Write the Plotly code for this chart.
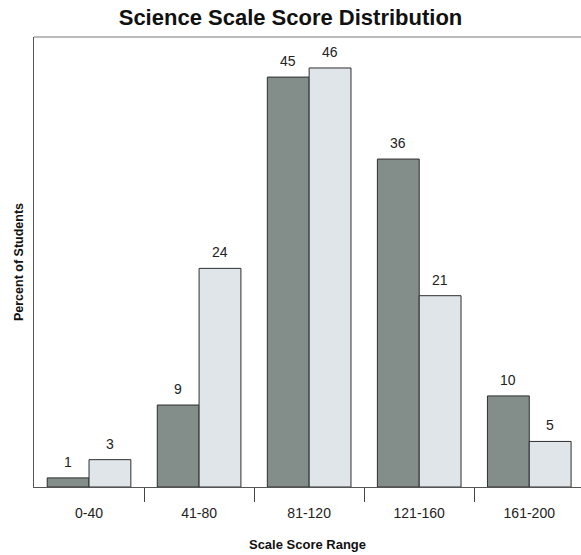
import plotly.graph_objects as go

# Score ranges and percentage of students in each range
categories = ["0-40", "41-80", "81-120", "121-160", "161-200"]
series_a = [1, 9, 45, 36, 10]
series_b = [3, 24, 46, 21, 5]

x_pos = list(range(len(categories)))
FONT = "Liberation Sans, Arial, sans-serif"

BARGAP = 0.24
half = (1 - BARGAP) / 4  # offset of each bar's centre from its group centre

fig = go.Figure()
fig.add_trace(go.Bar(
    x=x_pos, y=series_a, name="Series A",
    marker=dict(color="#838d8a", line=dict(color="#2e2e2e", width=1)),
))
fig.add_trace(go.Bar(
    x=x_pos, y=series_b, name="Series B",
    marker=dict(color="#e0e5ea", line=dict(color="#2e2e2e", width=1)),
))

# value labels above each bar
for offset, values in ((-half, series_a), (half, series_b)):
    for xi, v in zip(x_pos, values):
        fig.add_annotation(
            x=xi + offset, y=v, xref="x", yref="y",
            text=str(v), showarrow=False,
            yanchor="bottom", yshift=6,
            font=dict(family=FONT, size=14, color="#222222"),
        )

# top frame line of the plot area
fig.add_shape(type="line", xref="paper", yref="paper", x0=0, x1=1, y0=1, y1=1,
              line=dict(color="#777777", width=1))

fig.update_layout(
    width=581, height=555,
    margin=dict(l=34, r=0, t=37, b=68),
    paper_bgcolor="white", plot_bgcolor="white",
    barmode="group", bargap=BARGAP, bargroupgap=0,
    showlegend=False,
    title=dict(
        text="<b>Science Scale Score Distribution</b>",
        x=0.5, xanchor="center", y=0.969, yanchor="middle",
        font=dict(family=FONT, size=22, color="#111111"),
    ),
    xaxis=dict(
        range=[-0.5, 4.47],
        tickmode="array", tickvals=x_pos, ticktext=categories,
        ticks="", showgrid=False, zeroline=False,
        showline=True, linecolor="#555555", linewidth=1, mirror=False,
        ticklabelstandoff=13,
        tickfont=dict(family=FONT, size=14, color="#222222"),
        minor=dict(tickmode="array", tickvals=[0.5, 1.5, 2.5, 3.5],
                   ticks="outside", ticklen=14, tickcolor="#444444", tickwidth=1),
        automargin=False,
        title=dict(text="<b>Scale Score Range</b>", standoff=20,
                   font=dict(family=FONT, size=13, color="#111111")),
    ),
    yaxis=dict(
        range=[0, 49.4],
        showticklabels=False, ticks="", showgrid=False, zeroline=False,
        showline=True, linecolor="#555555", linewidth=1, mirror=False,
        automargin=False,
        title=dict(text="<b>Percent of Students</b>", standoff=6,
                   font=dict(family=FONT, size=12.5, color="#111111")),
    ),
)

fig.write_html("out.html")
